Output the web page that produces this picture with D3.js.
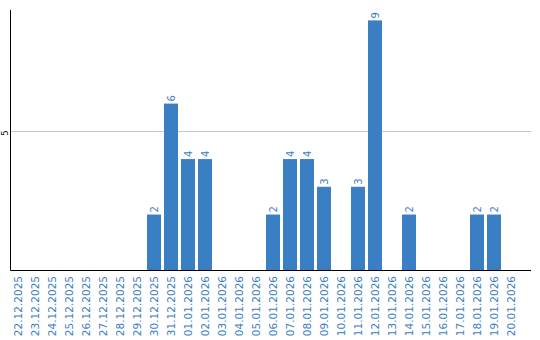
<!DOCTYPE html>
<html>
<head>
<meta charset="utf-8">
<script src="https://cdn.jsdelivr.net/npm/d3@7/dist/d3.min.js"></script>
<style>
  html, body { margin: 0; padding: 0; background: #fff; }
  svg { display: block; }
  text { font-family: "DejaVu Sans", Verdana, sans-serif; }
</style>
</head>
<body>
<svg id="chart" width="540" height="340"></svg>
<script>
const categories = ["22.12.2025","23.12.2025","24.12.2025","25.12.2025","26.12.2025","27.12.2025","28.12.2025","29.12.2025","30.12.2025","31.12.2025","01.01.2026","02.01.2026","03.01.2026","04.01.2026","05.01.2026","06.01.2026","07.01.2026","08.01.2026","09.01.2026","10.01.2026","11.01.2026","12.01.2026","13.01.2026","14.01.2026","15.01.2026","16.01.2026","17.01.2026","18.01.2026","19.01.2026","20.01.2026"];
const values = [0,0,0,0,0,0,0,0,2,6,4,4,0,0,0,2,4,4,3,0,3,9,0,2,0,0,0,2,2,0];
const yTicks = [5];

const svg = d3.select("#chart");
const mLeft = 10.5, mRight = 531, mTop = 10, mBottom = 270;
const barColor = "#3a7ec3";

const x = d3.scaleBand()
  .domain(categories)
  .range([11, 11 + categories.length * 17 - 3])
  .paddingInner(3 / 17)
  .paddingOuter(0);

const y = d3.scaleLinear().domain([0, 9.375]).range([mBottom, mTop]);

// gridlines
svg.append("g").selectAll("line").data(yTicks).join("line")
  .attr("x1", mLeft).attr("x2", mRight)
  .attr("y1", d => Math.round(y(d)) + 0.5).attr("y2", d => Math.round(y(d)) + 0.5)
  .attr("stroke", "#c8c8c8").attr("stroke-width", 1);

// y tick labels
svg.append("g").selectAll("text").data(yTicks).join("text")
  .attr("transform", d => `translate(5,${Math.round(y(d)) + 2}) rotate(-90)`)
  .attr("text-anchor", "middle")
  .attr("dy", "0.35em")
  .attr("font-size", 8)
  .attr("fill", "#000")
  .text(d => d);

// bars
svg.append("g").selectAll("rect").data(values).join("rect")
  .attr("x", (d, i) => x(categories[i]))
  .attr("width", x.bandwidth())
  .attr("y", d => y(d))
  .attr("height", d => y(0) - y(d))
  .attr("fill", barColor)
  .attr("display", d => d > 0 ? null : "none");

// value labels
svg.append("g").selectAll("text").data(values).join("text")
  .attr("transform", (d, i) => `translate(${x(categories[i]) + x.bandwidth() / 2},${y(d) - 2}) rotate(-90)`)
  .attr("text-anchor", "start")
  .attr("dy", "0.35em")
  .attr("font-size", 10)
  .attr("fill", barColor)
  .attr("display", d => d > 0 ? null : "none")
  .text(d => d);

// axes lines
svg.append("line")
  .attr("x1", mLeft).attr("x2", mLeft).attr("y1", mTop).attr("y2", mBottom + 0.5)
  .attr("stroke", "#000").attr("stroke-width", 1);
svg.append("line")
  .attr("x1", mLeft).attr("x2", mRight).attr("y1", mBottom + 0.5).attr("y2", mBottom + 0.5)
  .attr("stroke", "#000").attr("stroke-width", 1);

// x labels
svg.append("g").selectAll("text").data(categories).join("text")
  .attr("transform", d => `translate(${x(d) + x.bandwidth() / 2},276) rotate(-90)`)
  .attr("text-anchor", "end")
  .attr("dy", "0.35em")
  .attr("font-size", 10.5)
  .attr("fill", barColor)
  .text(d => d);
</script>
</body>
</html>
